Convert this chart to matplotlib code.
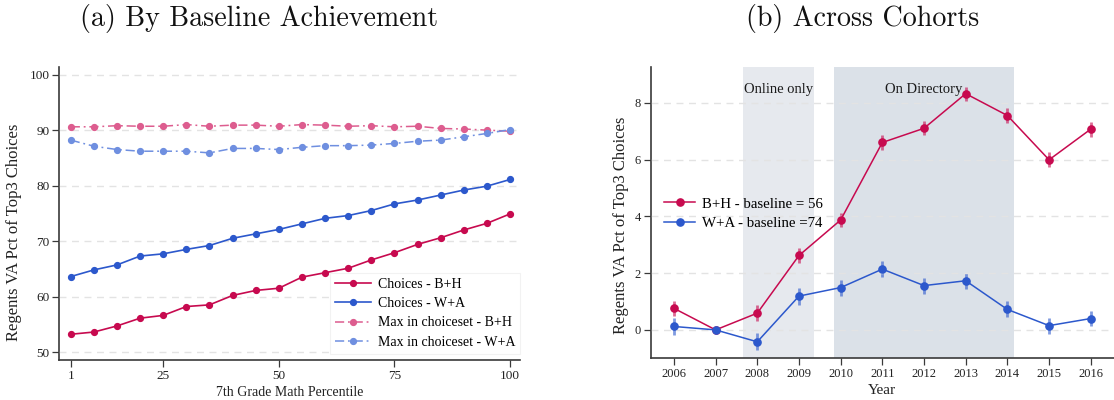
import matplotlib
matplotlib.use("Agg")
import matplotlib.pyplot as plt

# ---------------- data ----------------
# Panel (a): 7th grade math percentile bins
pct_bins = [5, 10, 15, 20, 25, 30, 35, 40, 45, 50,
            55, 60, 65, 70, 75, 80, 85, 90, 95, 100]
pct_ticks = [5, 25, 50, 75, 100]
pct_tick_labels = ["1", "25", "50", "75", "100"]

choices_bh = [53.2, 53.6, 54.7, 56.1, 56.6, 58.2, 58.5, 60.2, 61.1, 61.5,
              63.5, 64.3, 65.1, 66.6, 67.9, 69.4, 70.6, 72.0, 73.2, 74.9]
choices_wa = [63.6, 64.8, 65.7, 67.3, 67.7, 68.5, 69.2, 70.5, 71.3, 72.1,
              73.1, 74.1, 74.6, 75.5, 76.7, 77.4, 78.3, 79.2, 79.9, 81.1]
max_bh = [90.6, 90.6, 90.8, 90.7, 90.7, 91.0, 90.7, 90.9, 90.9, 90.7,
          91.0, 90.9, 90.7, 90.8, 90.6, 90.7, 90.3, 90.2, 90.0, 89.8]
max_wa = [88.2, 87.1, 86.5, 86.2, 86.2, 86.2, 85.9, 86.7, 86.7, 86.5,
          86.9, 87.2, 87.2, 87.3, 87.6, 88.0, 88.2, 88.8, 89.4, 90.1]

# Panel (b): cohort estimates with confidence intervals
years = [2006, 2007, 2008, 2009, 2010, 2011, 2012, 2013, 2014, 2015, 2016]
coef_bh = [0.76, 0.0, 0.59, 2.62, 3.87, 6.60, 7.10, 8.32, 7.55, 5.99, 7.07]
err_bh = [0.27, 0.0, 0.27, 0.26, 0.26, 0.25, 0.25, 0.25, 0.26, 0.26, 0.26]
coef_wa = [0.12, 0.0, -0.42, 1.19, 1.49, 2.14, 1.56, 1.73, 0.72, 0.15, 0.40]
err_wa = [0.30, 0.0, 0.30, 0.30, 0.28, 0.28, 0.28, 0.28, 0.28, 0.28, 0.28]

periods = [("Online only", 2007.65, 2009.35, "#e6e9ee"),
           ("On Directory", 2009.85, 2014.15, "#dbe1e8")]

# ---------------- styling ----------------
C_BH = "#c70a4f"
C_WA = "#2c58cc"
C_MAX_BH = "#dd5d8f"
C_MAX_WA = "#6f8fe0"
SPINE = "#3a3a3a"
GRID = "#e3e3e3"
SERIF = ["Liberation Serif", "DejaVu Serif"]

plt.rcParams["font.family"] = SERIF
plt.rcParams["axes.unicode_minus"] = False

fig = plt.figure(figsize=(11.14, 4.0), dpi=100)
ax1 = fig.add_axes([0.053, 0.10, 0.414, 0.7325])
ax2 = fig.add_axes([0.584, 0.1043, 0.4157, 0.729])


def style_axes(ax, fs):
    for s in ("top", "right"):
        ax.spines[s].set_visible(False)
    for s in ("left", "bottom"):
        ax.spines[s].set_color(SPINE)
        ax.spines[s].set_linewidth(1.2)
    ax.tick_params(axis="both", direction="out", length=5, width=0.9,
                   color=SPINE, labelsize=fs, labelcolor="#222222", pad=2)
    ax.yaxis.grid(True, color=GRID, linestyle=(0, (5, 4)), linewidth=1.0)
    ax.set_axisbelow(False)


# ---------------- panel (a) ----------------
style_axes(ax1, 9.5)
dashdot = (0, (6, 2.5, 1.2, 2.5))
ax1.plot(pct_bins, choices_bh, color=C_BH, lw=1.2, marker="o", ms=4.2,
         label="Choices - B+H", zorder=3)
ax1.plot(pct_bins, choices_wa, color=C_WA, lw=1.2, marker="o", ms=4.2,
         label="Choices - W+A", zorder=3)
ax1.plot(pct_bins, max_bh, color=C_MAX_BH, lw=1.1, ls=dashdot, marker="o",
         ms=4.2, label="Max in choiceset - B+H", zorder=3)
ax1.plot(pct_bins, max_wa, color=C_MAX_WA, lw=1.1, ls=dashdot, marker="o",
         ms=4.2, label="Max in choiceset - W+A", zorder=3)
ax1.set_xlim(2.47, 102.2)
ax1.set_ylim(48.56, 101.38)
ax1.set_yticks([50, 60, 70, 80, 90, 100])
ax1.set_xticks(pct_ticks)
ax1.set_xticklabels(pct_tick_labels)
ax1.set_xlabel("7th Grade Math Percentile", fontsize=10, color="#222222")
ax1.set_ylabel("Regents VA Pct of Top3 Choices", fontsize=12, color="#222222")
ax1.yaxis.set_label_coords(-0.081, 0.437)
ax1.xaxis.set_label_coords(0.5, -0.089)
leg1 = ax1.legend(loc="lower right", bbox_to_anchor=(1.0, 0.022), fontsize=10,
                  frameon=True, fancybox=False, framealpha=1.0,
                  edgecolor="#f2f2f2", handlelength=2.6, handletextpad=0.5,
                  labelspacing=0.45, borderpad=0.35, borderaxespad=0.0,
                  numpoints=1)
leg1.get_frame().set_linewidth(0.8)
leg1.set_zorder(5)

# ---------------- panel (b) ----------------
style_axes(ax2, 9)
for label, x0, x1, col in periods:
    ax2.axvspan(x0, x1, color=col, lw=0, zorder=0)
    ax2.text((x0 + x1) / 2, 8.47, label, ha="center", va="center",
             fontsize=10.5, color="#1a1a1a", zorder=4)
ax2.yaxis.grid(True, color=GRID, linestyle=(0, (5, 4)), linewidth=1.0,
               zorder=1)

ax2.errorbar(years, coef_bh, yerr=err_bh, fmt="none", ecolor=C_BH,
             elinewidth=2.0, alpha=0.6, zorder=2)
ax2.errorbar(years, coef_wa, yerr=err_wa, fmt="none", ecolor=C_WA,
             elinewidth=2.0, alpha=0.6, zorder=2)
ax2.plot(years, coef_bh, color=C_BH, lw=1.1, marker="o", ms=5.2,
         label="B+H - baseline = 56", zorder=3)
ax2.plot(years, coef_wa, color=C_WA, lw=1.1, marker="o", ms=5.2,
         label="W+A - baseline =74", zorder=3)
ax2.set_xlim(2005.44, 2016.55)
ax2.set_ylim(-1.0, 9.27)
ax2.set_yticks([0, 2, 4, 6, 8])
ax2.set_xticks(years)
ax2.set_xlabel("Year", fontsize=11, color="#222222")
ax2.set_ylabel("Regents VA Pct of Top3 Choices", fontsize=12, color="#222222")
ax2.yaxis.set_label_coords(-0.047, 0.457)
ax2.xaxis.set_label_coords(0.5, -0.088)
ax2.legend(loc="upper left", bbox_to_anchor=(0.0, 0.598), fontsize=10.7,
           frameon=False, handlelength=2.1, handletextpad=0.45,
           labelspacing=0.4, numpoints=1)

# ---------------- panel titles ----------------
fig.text(0.2322, 0.953, "(a) By Baseline Achievement", family="cmr10",
         fontsize=20.2, ha="center", va="center", color="#111111")
fig.text(0.7747, 0.953, "(b) Across Cohorts", family="cmr10",
         fontsize=20.2, ha="center", va="center", color="#111111")

fig.savefig("out.png", dpi=100, facecolor="white")
